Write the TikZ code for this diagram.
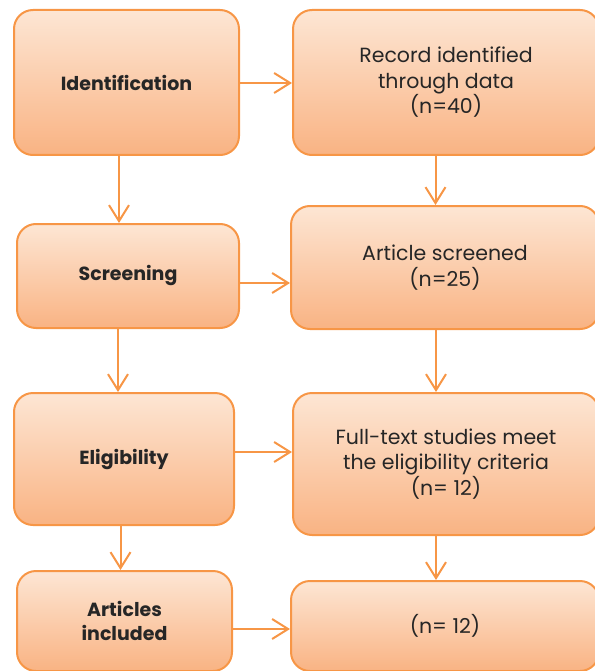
\documentclass[tikz,border=0pt]{standalone}
\usepackage{fontspec}
\setmainfont{Poppins}
\usetikzlibrary{arrows.meta}
\definecolor{boxline}{HTML}{F79646}
\definecolor{boxtop}{HTML}{FDE6D4}
\definecolor{boxbot}{HTML}{F9B383}
\definecolor{txt}{HTML}{262626}
\tikzset{
  flowbox/.style={draw=boxline, line width=2pt, rounded corners=19pt,
    top color=boxtop, bottom color=boxbot, inner sep=0pt,
    align=center, text=txt, font=\fontsize{20.5}{25.5}\selectfont},
  headbox/.style={flowbox, font=\bfseries\fontsize{19}{24.5}\selectfont},
  flowarrow/.style={draw=boxline, line width=2pt,
    -{Straight Barb[length=16pt,width=20pt,line width=2pt]}}
}
\begin{document}
\begin{tikzpicture}[x=1pt,y=1pt]
\useasboundingbox (0,0) rectangle (594,-671);
% left column
\node[headbox, minimum width=225pt, minimum height=145pt] (A) at (126.5,-82.5) {Identification};
\node[headbox, minimum width=222pt, minimum height=104pt] (C) at (128,-276) {Screening};
\node[headbox, minimum width=220pt, minimum height=132pt] (E) at (124,-459) {Eligibility};
\node[headbox, minimum width=215pt, minimum height=100pt] (G) at (124.5,-621) {Articles\\included};
% right column
\node[flowbox, minimum width=306pt, minimum height=145pt] (B) at (446,-82.5) {Record identified\\through data\\(n=40)};
\node[flowbox, minimum width=308pt, minimum height=123pt] (D) at (445,-267.5) {Article screened\\(n=25)};
\node[flowbox, minimum width=306pt, minimum height=142pt] (F) at (446,-464) {Full-text studies meet\\the eligibility criteria\\(n= 12)};
\node[flowbox, minimum width=308pt, minimum height=90pt] (H) at (445,-626) {(n= 12)};
% horizontal arrows
\draw[flowarrow] (A.east |- 0,-83) -- (B.west |- 0,-83);
\draw[flowarrow] (C.east |- 0,-283) -- (D.west |- 0,-283);
\draw[flowarrow] (E.east |- 0,-452) -- (F.west |- 0,-452);
\draw[flowarrow] (G.east |- 0,-629) -- (H.west |- 0,-629);
% vertical arrows
\draw[flowarrow] (A.south -| 119,0) -- (C.north -| 119,0);
\draw[flowarrow] (C.south -| 118,0) -- (E.north -| 118,0);
\draw[flowarrow] (E.south -| 120.5,0) -- (G.north -| 120.5,0);
\draw[flowarrow] (B.south -| 435.5,0) -- (D.north -| 435.5,0);
\draw[flowarrow] (D.south -| 436,0) -- (F.north -| 436,0);
\draw[flowarrow] (F.south -| 436,0) -- (H.north -| 436,0);
\end{tikzpicture}
\end{document}
